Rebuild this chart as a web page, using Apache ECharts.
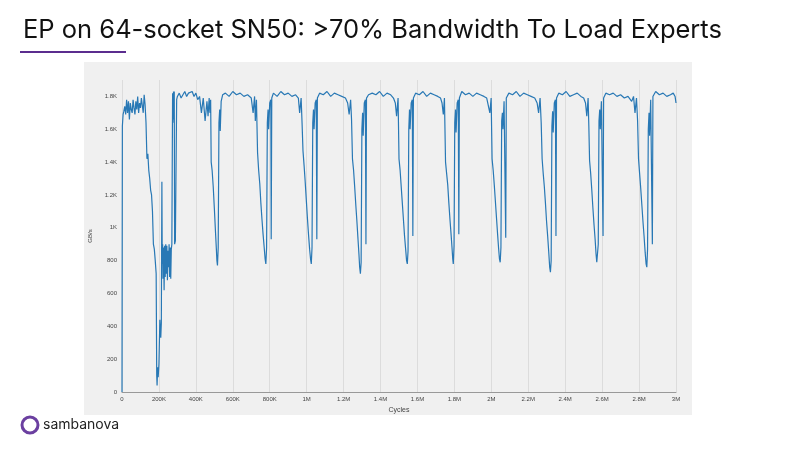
<!DOCTYPE html>
<html><head><meta charset="utf-8">
<script src="https://cdn.jsdelivr.net/npm/echarts@6/dist/echarts.min.js"></script>
<style>html,body{margin:0;padding:0;background:#fff}#c{width:800px;height:450px}</style>
</head><body><div id="c"></div>
<script>
const title = "EP on 64-socket SN50: >70% Bandwidth To Load Experts";
const xTickLabels = {0:"0",200000:"200K",400000:"400K",600000:"600K",800000:"800K",1000000:"1M",1200000:"1.2M",1400000:"1.4M",1600000:"1.6M",1800000:"1.8M",2000000:"2M",2200000:"2.2M",2400000:"2.4M",2600000:"2.6M",2800000:"2.8M",3000000:"3M"};
const yTickLabels = {0:"0",200:"200",400:"400",600:"600",800:"800",1000:"1K",1200:"1.2K",1400:"1.4K",1600:"1.6K",1800:"1.8K"};
// [cycles in thousands, GB/s]
const warmupPoints = [
[0,0],[2,1620],[6,1690],[10,1710],[15,1740],[20,1690],[25,1780],[30,1700],[35,1770],[40,1660],[45,1760],[50,1720],[55,1700],[60,1780],[65,1730],[70,1690],[75,1770],[80,1720],[85,1800],[90,1700],[95,1760],[100,1730],[105,1790],[110,1800],[115,1700],[120,1810],[125,1750],[130,1640],[135,1420],[140,1450],[145,1350],[150,1300],[155,1230],[160,1200],[165,1100],[170,900],[175,870],[180,800],[185,720],[188,100],[190,40],[193,150],[196,90],[200,170],[205,440],[210,330],[213,420],[216,1280],[218,780],[220,900],[222,690],[225,880],[228,620],[231,890],[234,700],[237,900],[240,720],[243,890],[246,680],[249,860],[252,760],[255,900],[258,700],[261,880],[264,690],[267,870],[270,900],[274,1820],[277,1660],[279,1830],[281,1640],[283,1830],[285,900],[289,920],[292,910],[296,1780],[300,1800],[310,1820],[320,1790],[330,1810],[340,1830],[350,1800],[360,1820],[370,1810],[380,1830],[390,1800],[400,1820],[410,1780],[420,1800],[430,1700],[440,1790],[450,1650],[460,1770],[466,1680],[472,1790]
];
const cyclePoints = [
[476,1700],[480,1780],[483,1400],[488,1350],[494,1250],[500,1120],[506,980],[511,870],[514,800],[517,770],[521,880],[525,1640],[529,1720],[532,1590],[537,1770],[545,1810],[560,1820],[580,1800],[600,1830],[620,1810],[640,1820],[660,1800],[680,1810],[700,1790],[710,1700],[718,1800],[722,1650],[728,1780],
[734,1460],[740,1350],[746,1270],[752,1150],[758,1050],[764,960],[770,880],[775,810],[779,780],[783,880],[787,1640],[791,1720],[794,1600],[800,1760],[806,1780],[808,930],[811,1790],[820,1820],[840,1800],[860,1830],[880,1810],[900,1820],[920,1800],[940,1810],[955,1790],[962,1700],[970,1790],[975,1640],
[980,1470],[986,1380],[992,1280],[998,1170],[1004,1060],[1010,960],[1016,870],[1021,810],[1025,780],[1029,880],[1033,1640],[1037,1720],[1040,1600],[1046,1760],[1052,1780],[1055,930],[1058,1790],[1070,1820],[1090,1810],[1110,1830],[1130,1800],[1150,1820],[1170,1810],[1190,1800],[1210,1790],[1222,1760],[1230,1690],[1238,1780],[1243,1660],
[1248,1420],[1254,1350],[1260,1250],[1266,1140],[1272,1040],[1278,930],[1283,840],[1287,760],[1291,720],[1295,790],[1299,1600],[1303,1700],[1306,1560],[1312,1760],[1318,1780],[1321,900],[1324,1790],[1335,1810],[1355,1820],[1375,1810],[1395,1830],[1415,1800],[1435,1820],[1455,1810],[1470,1790],[1480,1760],[1487,1680],[1495,1790],
[1500,1420],[1506,1350],[1512,1250],[1518,1150],[1524,1050],[1530,950],[1536,870],[1541,800],[1545,780],[1549,860],[1553,1600],[1557,1720],[1560,1600],[1566,1760],[1572,1780],[1575,950],[1578,1790],[1590,1820],[1610,1810],[1630,1830],[1650,1800],[1670,1820],[1690,1810],[1710,1800],[1725,1790],[1733,1760],[1740,1690],[1746,1790],
[1752,1400],[1758,1330],[1764,1260],[1770,1150],[1776,1050],[1782,960],[1787,880],[1791,810],[1794,780],[1798,890],[1802,1640],[1806,1720],[1809,1580],[1815,1760],[1821,1780],[1824,960],[1827,1790],[1840,1830],[1860,1810],[1880,1820],[1900,1800],[1920,1820],[1940,1810],[1960,1800],[1975,1790],[1985,1780],[1992,1700],[1999,1790],
[2004,1420],[2010,1350],[2016,1260],[2022,1160],[2028,1060],[2034,960],[2039,880],[2044,810],[2048,790],[2052,880],[2056,1650],[2060,1700],[2063,1600],[2069,1770],[2075,1780],[2078,940],[2081,1790],[2095,1820],[2115,1810],[2135,1830],[2155,1800],[2175,1820],[2195,1810],[2215,1800],[2235,1790],[2248,1760],[2256,1700],[2264,1790],[2270,1640],
[2275,1420],[2281,1330],[2287,1250],[2293,1150],[2299,1040],[2305,950],[2311,850],[2316,760],[2320,730],[2324,800],[2328,1620],[2332,1710],[2335,1580],[2341,1760],[2347,1780],[2350,950],[2353,1790],[2365,1820],[2385,1810],[2405,1830],[2425,1800],[2445,1810],[2465,1820],[2485,1800],[2500,1790],[2510,1760],[2517,1680],[2524,1790],[2528,1620],
[2532,1410],[2538,1330],[2544,1230],[2550,1120],[2556,1020],[2562,930],[2567,840],[2571,790],[2575,800],[2579,900],[2583,1650],[2587,1720],[2590,1600],[2596,1770],[2602,1780],[2605,950],[2608,1790],[2620,1820],[2640,1810],[2660,1820],[2680,1800],[2700,1810],[2720,1790],[2740,1800],[2760,1770],[2770,1800],[2778,1700],[2786,1790],[2792,1650],
[2797,1420],[2803,1330],[2809,1240],[2815,1140],[2821,1040],[2827,950],[2833,850],[2838,780],[2842,760],[2846,870],[2850,1600],[2854,1700],[2857,1560],[2863,1780],[2869,1790],[2872,900],[2875,1800],[2890,1830],[2910,1810],[2930,1820],[2950,1800],[2970,1810],[2985,1820],[2995,1800],[3000,1760]
];
const data = warmupPoints.concat(cyclePoints).map(p=>[p[0]*1000, p[1]]);
const chart = echarts.init(document.getElementById('c'));
chart.setOption({
  backgroundColor:'#fff',
  animation:false,
  title:{text:title,left:18,top:12,textStyle:{fontFamily:'Inter',fontSize:25.5,fontWeight:'normal',color:'#111'}},
  graphic:[
    {type:'rect',shape:{x:20,y:51,width:106,height:2},style:{fill:'#5b2d8e'}},
    {type:'rect',shape:{x:84,y:62,width:608,height:353},style:{fill:'#f0f0f0'},z:-10},
    {type:'circle',shape:{cx:30,cy:425,r:8},style:{fill:'none',stroke:'#6b3fa0',lineWidth:3}},
    {type:'text',style:{x:43,y:418,text:'sambanova',font:'14px Inter',fill:'#222'}}
  ],
  grid:{left:122,right:124,top:80,bottom:58},
  xAxis:{type:'value',min:0,max:3000000,interval:200000,name:'Cycles',nameLocation:'middle',nameGap:12,
    nameTextStyle:{fontSize:7,color:'#444'},
    axisLine:{lineStyle:{color:'#999'}},axisTick:{show:false},
    axisLabel:{fontSize:6,color:'#444',margin:4,formatter:v=>xTickLabels[v]??''},
    splitLine:{show:true,lineStyle:{color:'#dcdcdc'}}},
  yAxis:{type:'value',min:0,max:1900,interval:200,name:'GB/s',nameLocation:'middle',nameGap:22,
    nameTextStyle:{fontSize:6,color:'#444'},
    axisLine:{show:false},axisTick:{show:false},
    axisLabel:{fontSize:6,color:'#444',margin:5,formatter:v=>yTickLabels[v]??''},
    splitLine:{show:false}},
  series:[{type:'line',data:data,showSymbol:false,lineStyle:{color:'#2878b5',width:1.2}}]
});
</script></body></html>
